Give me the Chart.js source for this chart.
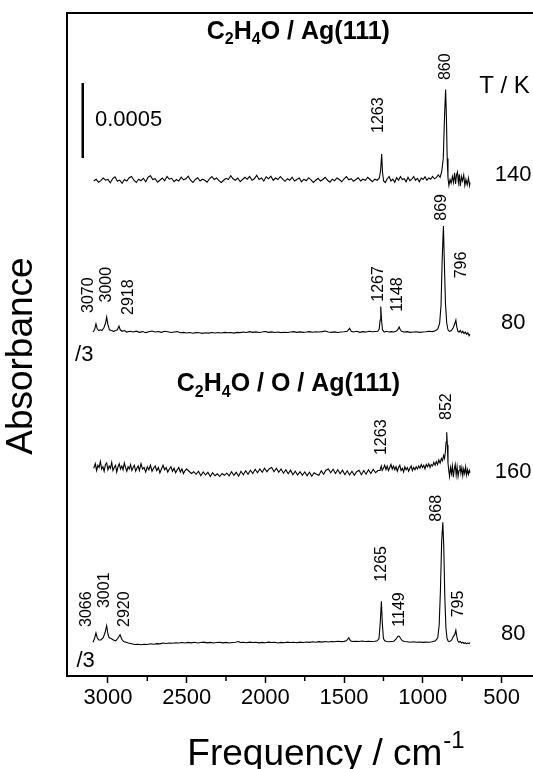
<!DOCTYPE html>
<html>
<head>
<meta charset="utf-8">
<style>
  body { margin: 0; background: #fff; }
</style>
</head>
<body>
<canvas id="myChart" width="533" height="769"></canvas>

<script src="https://cdn.jsdelivr.net/npm/chart.js"></script>

<script>
const FONT = "'Liberation Sans', Arial, sans-serif";

// frequency axis (cm-1)
const majorTicks = [3000, 2500, 2000, 1500, 1000, 500];
const minorTicks = [2750, 2250, 1750, 1250, 750];

// absorbance in units of 1e-4, /3 traces already divided
const offsets = [33.0, 22.93, 13.6, 2.2];
const temps = ['140', '80', '160', '80'];
const tempLevel = [33.43, 23.53, 13.62, 2.81];

// C2H4O / Ag(111), 140 K
const spec140 = [
  [3090,0.0],[3075,0.12],[3060,-0.08],[3045,0.02],[3030,0.2],[3015,0.05],[3000,0.1],[2985,-0.12],[2970,0.15],[2955,0.28],
  [2940,-0.02],[2925,0.06],[2910,-0.15],[2895,0.1],[2880,0.0],[2865,0.22],[2850,0.3],[2835,0.05],[2820,-0.1],[2805,0.12],
  [2790,0.02],[2775,0.18],[2760,-0.05],[2745,0.25],[2730,0.35],[2715,0.1],[2700,0.15],[2685,-0.08],[2670,0.05],[2655,0.2],
  [2640,0.02],[2625,0.3],[2610,0.12],[2595,0.18],[2580,-0.05],[2565,0.1],[2550,0.0],[2535,0.25],[2520,0.08],[2505,0.15],
  [2490,0.32],[2475,0.05],[2460,-0.1],[2445,0.1],[2430,0.22],[2415,0.0],[2400,0.12],[2385,0.05],[2370,-0.08],[2355,0.15],
  [2340,0.3],[2325,0.1],[2310,0.2],[2295,0.02],[2280,-0.1],[2265,0.05],[2250,0.18],[2235,0.1],[2220,0.35],[2205,0.15],
  [2190,0.05],[2175,0.2],[2160,-0.05],[2145,0.1],[2130,0.25],[2115,0.12],[2100,0.3],[2085,0.05],[2070,0.15],[2055,0.38],
  [2040,0.1],[2025,0.2],[2010,0.0],[1995,0.28],[1980,0.15],[1965,0.32],[1950,0.05],[1935,0.2],[1920,0.1],[1905,0.3],
  [1890,0.12],[1875,-0.02],[1860,0.15],[1845,0.05],[1830,0.25],[1815,0.0],[1800,0.1],[1785,0.2],[1770,-0.05],[1755,0.12],
  [1740,0.02],[1725,0.22],[1710,0.08],[1695,-0.1],[1680,0.05],[1665,0.18],[1650,0.0],[1635,0.1],[1620,0.25],[1605,0.05],
  [1590,-0.08],[1575,0.12],[1560,0.02],[1545,0.2],[1530,0.1],[1515,-0.05],[1500,0.15],[1485,0.3],[1470,0.08],[1455,0.15],
  [1440,-0.02],[1425,0.1],[1410,0.22],[1395,0.0],[1380,0.12],[1365,0.05],[1350,0.25],[1335,0.1],[1320,-0.05],[1305,0.12],
  [1290,0.05],[1276,0.2],[1268,0.7],[1261,1.8],[1256,0.6],[1249,0.0],[1238,-0.1],[1226,0.15],[1214,0.3],[1202,0.0],
  [1190,0.12],[1178,-0.08],[1166,0.22],[1154,0.05],[1142,0.3],[1130,0.1],[1118,0.15],[1106,-0.05],[1094,0.25],[1082,0.02],
  [1070,0.12],[1058,0.3],[1046,0.05],[1034,0.18],[1022,-0.05],[1010,0.2],[998,0.1],[986,0.28],[974,0.05],[962,0.2],
  [950,0.12],[938,0.3],[926,0.15],[914,0.22],[902,0.4],[890,0.25],[880,0.6],[870,1.5],[862,4.3],[855,6.1],
  [850,4.2],[845,1.5],[840,0.2],[834,-0.3],[827,0.1],[820,-0.15],[812,0.3],[805,-0.1],[798,0.55],[792,-0.2],
  [786,0.4],[780,0.6],[774,-0.1],[768,0.45],[762,-0.35],[755,0.3],[748,0.0],[740,0.4],[733,-0.3],[726,0.1],
  [718,-0.25],[710,0.2],[703,-0.3],[700,-0.1]
];

// C2H4O / Ag(111), 80 K (/3)
const spec80a = [
  [3095,0.0],[3085,0.15],[3076,0.55],[3068,0.2],[3058,0.1],[3048,0.15],[3038,0.1],[3025,0.3],[3015,0.6],[3008,1.0],
  [3000,0.5],[2990,0.15],[2978,0.1],[2965,0.05],[2950,0.1],[2940,0.15],[2930,0.4],[2922,0.15],[2910,0.05],[2895,0.1],
  [2880,0.0],[2860,0.05],[2840,0.0],[2820,0.06],[2800,-0.02],[2780,0.03],[2760,-0.04],[2740,0.02],[2720,0.07],[2700,0.0],
  [2680,0.04],[2660,-0.02],[2640,0.05],[2620,0.02],[2600,-0.03],[2580,0.0],[2560,0.03],[2540,-0.05],[2520,-0.02],[2500,-0.06],
  [2480,-0.03],[2460,-0.08],[2440,-0.04],[2420,-0.05],[2400,-0.09],[2380,-0.05],[2360,-0.07],[2340,-0.03],[2320,-0.06],[2300,-0.03],
  [2280,-0.06],[2260,-0.02],[2240,-0.05],[2220,-0.03],[2200,-0.07],[2180,-0.02],[2160,-0.04],[2140,0.0],[2120,-0.03],[2100,0.03],
  [2080,-0.02],[2060,0.01],[2040,-0.03],[2020,0.0],[2000,0.04],[1980,-0.02],[1960,0.01],[1940,-0.03],[1920,0.0],[1900,-0.04],
  [1880,-0.01],[1860,-0.03],[1840,0.0],[1820,0.03],[1800,-0.02],[1780,0.01],[1760,-0.02],[1740,0.0],[1720,0.03],[1700,-0.01],
  [1680,0.02],[1660,0.0],[1640,0.03],[1620,0.07],[1600,0.0],[1580,-0.02],[1560,0.01],[1540,-0.03],[1520,0.0],[1500,0.02],
  [1480,0.05],[1465,0.25],[1455,0.05],[1440,0.0],[1420,0.05],[1400,-0.02],[1380,0.03],[1360,0.0],[1340,0.05],[1320,0.02],
  [1300,0.04],[1286,0.05],[1277,0.2],[1271,0.8],[1267,1.7],[1262,0.8],[1256,0.15],[1245,0.0],[1230,0.05],[1215,0.0],
  [1200,0.03],[1185,0.0],[1170,0.05],[1160,0.15],[1150,0.33],[1143,0.15],[1135,0.05],[1120,0.0],[1100,0.03],[1080,-0.02],
  [1060,0.0],[1040,0.02],[1020,-0.02],[1000,0.0],[980,0.02],[960,0.05],[940,0.03],[920,0.08],[905,0.2],[893,0.6],
  [884,1.8],[877,4.8],[869,7.07],[863,4.6],[856,1.9],[848,0.6],[840,0.15],[830,0.05],[818,0.1],[806,0.3],
  [797,0.55],[790,0.8],[784,0.35],[777,0.05],[770,0.0],[762,0.1],[754,-0.05],[746,0.05],[738,-0.1],[730,0.0],
  [722,-0.15],[714,-0.05],[706,-0.25],[700,-0.15]
];

// C2H4O / O / Ag(111), 160 K
const spec160 = [
  [3090,0.25],[3080,0.55],[3072,0.1],[3064,0.45],[3056,0.3],[3048,0.7],[3040,0.2],[3032,0.35],[3024,0.05],[3016,0.5],
  [3008,0.6],[3000,0.15],[2992,0.4],[2984,0.25],[2976,0.65],[2968,0.1],[2960,0.3],[2952,0.45],[2944,0.0],[2936,0.35],
  [2928,0.55],[2920,0.2],[2912,0.4],[2904,0.15],[2896,0.6],[2888,0.3],[2880,0.05],[2872,0.35],[2864,0.2],[2856,0.5],
  [2848,0.1],[2840,0.3],[2832,0.45],[2824,0.05],[2816,0.25],[2808,0.4],[2800,0.1],[2790,0.55],[2780,0.2],[2770,0.3],
  [2760,0.0],[2750,0.35],[2740,0.15],[2730,0.45],[2720,0.05],[2710,0.25],[2700,0.4],[2690,0.1],[2680,0.3],[2670,-0.05],
  [2660,0.2],[2650,0.45],[2640,0.15],[2630,0.3],[2620,0.0],[2610,0.2],[2600,0.35],[2590,0.05],[2580,0.25],[2570,-0.05],
  [2560,0.15],[2550,0.3],[2540,0.0],[2530,0.2],[2520,-0.1],[2510,0.1],[2500,0.2],[2485,0.05],[2470,-0.1],[2455,0.02],
  [2440,-0.15],[2425,0.05],[2410,-0.25],[2395,0.0],[2380,-0.2],[2365,-0.02],[2350,-0.3],[2335,-0.05],[2320,-0.25],[2305,-0.12],
  [2290,-0.3],[2275,-0.1],[2260,-0.22],[2245,-0.08],[2230,-0.25],[2215,0.02],[2200,-0.22],[2185,-0.02],[2170,-0.28],[2155,0.05],
  [2140,-0.18],[2125,0.08],[2110,-0.15],[2095,0.12],[2080,-0.1],[2065,0.18],[2050,-0.05],[2035,0.2],[2020,-0.02],[2005,0.25],
  [1990,0.02],[1975,0.22],[1960,0.3],[1945,0.02],[1930,0.25],[1915,-0.02],[1900,0.2],[1885,-0.08],[1870,0.15],[1855,-0.12],
  [1840,0.12],[1825,-0.18],[1810,0.05],[1795,-0.2],[1780,0.02],[1765,-0.22],[1750,0.0],[1735,-0.25],[1720,-0.02],[1705,-0.28],
  [1690,-0.05],[1675,-0.15],[1660,-0.22],[1645,0.08],[1630,-0.15],[1615,0.12],[1600,0.2],[1585,-0.05],[1570,0.18],[1555,-0.1],
  [1540,0.15],[1525,-0.12],[1510,0.12],[1495,-0.18],[1480,0.08],[1465,-0.2],[1450,0.05],[1435,-0.22],[1420,0.02],[1405,0.12],
  [1390,-0.18],[1375,0.1],[1360,-0.15],[1345,0.15],[1330,-0.1],[1315,0.18],[1300,-0.05],[1285,0.1],[1272,0.1],[1264,0.4],
  [1258,0.1],[1250,0.25],[1242,0.45],[1234,0.15],[1226,0.4],[1218,0.1],[1210,0.3],[1202,0.5],[1194,0.2],[1186,0.4],
  [1178,0.15],[1170,0.35],[1162,0.05],[1154,0.3],[1146,0.45],[1138,0.1],[1130,0.25],[1122,0.0],[1114,0.35],[1106,0.15],
  [1098,0.3],[1090,0.05],[1082,0.25],[1074,0.4],[1066,0.1],[1058,0.3],[1050,0.15],[1042,0.35],[1034,0.2],[1026,0.4],
  [1018,0.25],[1010,0.5],[1002,0.3],[994,0.45],[986,0.2],[978,0.5],[970,0.35],[962,0.55],[954,0.3],[946,0.5],
  [938,0.4],[930,0.65],[922,0.45],[914,0.7],[906,0.5],[898,0.8],[890,0.6],[882,0.9],[875,0.75],[868,1.1],
  [862,0.9],[856,1.4],[852,2.0],[848,2.65],[844,1.8],[840,0.6],[835,0.1],[830,-0.3],[824,0.3],[818,-0.1],
  [812,0.4],[806,-0.35],[800,0.2],[794,0.5],[788,-0.2],[782,0.35],[776,-0.3],[770,0.1],[764,0.45],[758,-0.1],
  [752,0.3],[746,-0.25],[740,0.2],[734,-0.1],[728,0.35],[722,-0.2],[716,0.15],[710,-0.15],[704,0.1],[700,-0.05]
];

// C2H4O / O / Ag(111), 80 K (/3)
const spec80b = [
  [3095,0.05],[3085,0.3],[3076,0.67],[3068,0.35],[3058,0.2],[3045,0.2],[3030,0.35],[3018,0.7],[3008,1.15],[3000,0.6],
  [2992,0.35],[2980,0.3],[2965,0.2],[2950,0.15],[2938,0.3],[2923,0.55],[2912,0.25],[2900,0.1],[2885,0.05],[2870,0.0],
  [2850,-0.05],[2830,-0.1],[2810,-0.08],[2790,-0.12],[2770,-0.08],[2750,-0.1],[2730,-0.05],[2710,-0.08],[2690,-0.04],[2670,-0.06],
  [2650,0.0],[2630,-0.03],[2610,0.0],[2590,-0.02],[2570,0.02],[2550,0.0],[2530,0.03],[2510,0.0],[2490,0.04],[2470,0.01],
  [2450,0.05],[2430,0.0],[2410,0.03],[2390,0.06],[2370,0.01],[2350,0.04],[2330,0.0],[2310,0.03],[2290,0.05],[2270,0.01],
  [2250,0.04],[2230,0.0],[2210,0.03],[2190,0.05],[2170,0.1],[2160,0.03],[2140,0.05],[2120,0.02],[2100,0.06],[2080,0.03],
  [2060,0.05],[2040,0.01],[2020,0.04],[2000,0.02],[1980,0.06],[1960,0.03],[1940,0.05],[1920,0.0],[1900,0.04],[1880,0.02],
  [1860,0.06],[1840,0.03],[1820,0.05],[1800,0.02],[1780,0.06],[1760,0.03],[1740,0.07],[1720,0.04],[1700,0.08],[1680,0.05],
  [1660,0.09],[1640,0.06],[1620,0.1],[1600,0.07],[1580,0.1],[1560,0.08],[1540,0.12],[1520,0.09],[1500,0.11],[1485,0.15],
  [1470,0.35],[1460,0.15],[1445,0.1],[1425,0.12],[1405,0.1],[1385,0.13],[1365,0.1],[1345,0.12],[1325,0.1],[1305,0.12],
  [1290,0.15],[1278,0.3],[1270,1.4],[1263,2.78],[1257,1.3],[1250,0.3],[1242,0.15],[1230,0.1],[1215,0.08],[1200,0.1],
  [1185,0.12],[1170,0.25],[1158,0.45],[1149,0.45],[1141,0.3],[1130,0.15],[1115,0.1],[1100,0.08],[1080,0.05],[1060,0.08],
  [1040,0.05],[1020,0.07],[1000,0.04],[980,0.06],[960,0.05],[940,0.08],[920,0.15],[905,0.35],[896,1.2],[888,3.5],
  [880,6.8],[873,8.05],[867,6.5],[860,3.0],[853,1.0],[846,0.3],[838,0.12],[828,0.1],[816,0.2],[806,0.45],
  [797,0.55],[790,0.85],[784,0.45],[778,0.15],[770,0.05],[762,0.1],[754,0.0],[746,0.05],[738,-0.03],[730,0.02],
  [722,-0.05],[714,0.0],[706,-0.04],[700,0.02]
];

// peak labels: text, frequency, level where the rotated text starts
const peakText  = ['1263','860', '3070','3000','2918','1267','1148','869','796', '1263','852', '3066','3001','2920','1265','1149','868','795'];
const peakFreq  = [1282, 858,    3125, 3008, 2870, 1282, 1161, 879, 752,      1261, 848,      3135, 3023, 2891, 1261, 1149, 911, 774];
const peakLevel = [36.2, 39.73,  24.2, 24.9, 24.07, 24.95, 24.29, 30.35, 26.51, 14.73, 17.07, 3.27, 4.53, 3.27, 6.29, 3.29, 10.29, 3.91];

const spectra = [spec140, spec80a, spec160, spec80b];

const datasets = spectra.map((s, i) => ({
  data: s.map(p => ({ x: p[0], y: p[1] + offsets[i] })),
  borderColor: '#000',
  borderWidth: 1.1,
  pointRadius: 0,
  tension: 0,
  fill: false
}));

function drawFormula(ctx, parts, x, y, size) {
  let cx = x;
  parts.forEach(([t, sub]) => {
    ctx.font = 'bold ' + (sub ? Math.round(size * 0.64) : size) + 'px ' + FONT;
    ctx.fillText(t, cx, sub ? y + size * 0.22 : y);
    cx += ctx.measureText(t).width;
  });
}

const textPlugin = {
  id: 'texts',
  afterDraw(chart) {
    const { ctx, chartArea: a, scales: { x, y } } = chart;
    ctx.save();
    ctx.strokeStyle = '#000';
    ctx.fillStyle = '#000';

    // top frame line
    ctx.lineWidth = 2;
    ctx.beginPath();
    ctx.moveTo(a.left - 1, a.top);
    ctx.lineTo(a.right, a.top);
    ctx.stroke();

    // minor ticks
    ctx.lineWidth = 1.5;
    minorTicks.forEach(v => {
      const px = x.getPixelForValue(v);
      ctx.beginPath();
      ctx.moveTo(px, a.bottom);
      ctx.lineTo(px, a.bottom + 5);
      ctx.stroke();
    });

    // scale bar 0.0005
    ctx.lineWidth = 2.5;
    ctx.beginPath();
    ctx.moveTo(x.getPixelForValue(3160), y.getPixelForValue(34.53));
    ctx.lineTo(x.getPixelForValue(3160), y.getPixelForValue(39.53));
    ctx.stroke();
    ctx.font = '22px ' + FONT;
    ctx.textAlign = 'left';
    ctx.textBaseline = 'middle';
    ctx.fillText('0.0005', x.getPixelForValue(3082), y.getPixelForValue(37.07));

    // peak labels
    ctx.font = '16px ' + FONT;
    peakText.forEach((t, i) => {
      ctx.save();
      ctx.translate(x.getPixelForValue(peakFreq[i]), y.getPixelForValue(peakLevel[i]));
      ctx.rotate(-Math.PI / 2);
      ctx.textAlign = 'left';
      ctx.textBaseline = 'middle';
      ctx.fillText(t, 0, 0);
      ctx.restore();
    });

    // temperatures
    ctx.font = '22px ' + FONT;
    ctx.textAlign = 'center';
    ctx.textBaseline = 'middle';
    temps.forEach((t, i) => ctx.fillText(t, x.getPixelForValue(426), y.getPixelForValue(tempLevel[i])));
    ctx.font = '24px ' + FONT;
    ctx.textAlign = 'left';
    ctx.textBaseline = 'alphabetic';
    ctx.fillText('T / K', x.getPixelForValue(642), y.getPixelForValue(38.9));

    // /3 markers
    ctx.font = '22px ' + FONT;
    ctx.textBaseline = 'middle';
    ctx.fillText('/3', x.getPixelForValue(3209), y.getPixelForValue(21.4));
    ctx.fillText('/3', x.getPixelForValue(3200), y.getPixelForValue(1.0));

    // system titles
    ctx.textBaseline = 'alphabetic';
    drawFormula(ctx, [['C', false], ['2', true], ['H', false], ['4', true], ['O / Ag(111)', false]],
      x.getPixelForValue(2372), y.getPixelForValue(42.5), 25);
    drawFormula(ctx, [['C', false], ['2', true], ['H', false], ['4', true], ['O / O / Ag(111)', false]],
      x.getPixelForValue(2563), y.getPixelForValue(19.0), 25);

    // axis titles
    ctx.font = '37px ' + FONT;
    ctx.textAlign = 'center';
    ctx.textBaseline = 'middle';
    ctx.save();
    ctx.translate(a.left - 45, y.getPixelForValue(21.33));
    ctx.rotate(-Math.PI / 2);
    ctx.fillText('Absorbance', 0, 0);
    ctx.restore();

    const main = 'Frequency / cm';
    ctx.font = '37px ' + FONT;
    const w1 = ctx.measureText(main).width;
    ctx.font = '24px ' + FONT;
    const w2 = ctx.measureText('-1').width;
    const left = x.getPixelForValue(1618) - (w1 + w2) / 2;
    const base = a.bottom + 89;
    ctx.textAlign = 'left';
    ctx.textBaseline = 'alphabetic';
    ctx.font = '37px ' + FONT;
    ctx.fillText(main, left, base);
    ctx.font = '24px ' + FONT;
    ctx.fillText('-1', left + w1 + 1, base - 17);

    ctx.restore();
  }
};

const config = {
  type: 'line',
  data: { datasets },
  options: {
    responsive: false,
    animation: false,
    layout: { padding: { top: 13, right: 0, left: 0, bottom: 0 } },
    plugins: { legend: { display: false }, tooltip: { enabled: false } },
    scales: {
      x: {
        type: 'linear',
        reverse: true,
        min: 300,
        max: 3260,
        afterBuildTicks: scale => { scale.ticks = majorTicks.map(v => ({ value: v })); },
        afterFit: scale => { scale.height = 93; },
        grid: { drawOnChartArea: false, drawTicks: true, tickLength: 7, tickColor: '#000', tickWidth: 1.5 },
        border: { display: true, color: '#000', width: 2 },
        ticks: {
          color: '#000',
          font: { family: FONT, size: 22 },
          padding: 2,
          maxRotation: 0,
          autoSkip: false,
          callback: v => String(v)
        }
      },
      y: {
        type: 'linear',
        min: 0,
        max: 44.2,
        afterFit: scale => { scale.width = 67; },
        grid: { display: false, drawTicks: false },
        border: { display: true, color: '#000', width: 2 },
        ticks: { display: false }
      }
    }
  },
  plugins: [textPlugin]
};

const ctx = document.getElementById('myChart');
const specChart = new Chart(ctx, config);
</script>
</body>
</html>
